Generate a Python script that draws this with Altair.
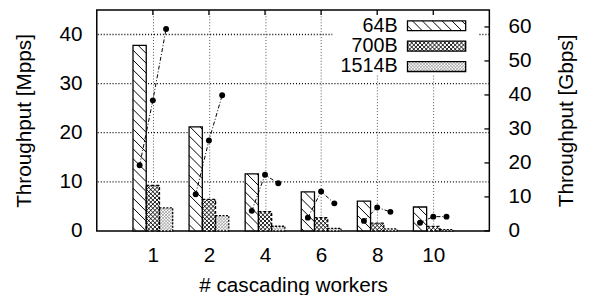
import json
import altair as alt
import pandas as pd

# ---------------- data ----------------
categories = ["1", "2", "4", "6", "8", "10"]
series = ["64B", "700B", "1514B"]
mpps_64 = [37.8, 21.2, 11.6, 7.95, 6.05, 4.87]
mpps_700 = [9.27, 6.4, 3.94, 2.7, 1.58, 0.92]
mpps_1514 = [4.67, 3.1, 0.95, 0.53, 0.4, 0.27]
gbps_64 = [19.3, 10.8, 5.9, 3.9, 2.95, 2.4]
gbps_700 = [38.4, 26.6, 16.5, 11.6, 6.9, 4.2]
gbps_1514 = [59.4, 39.9, 14.0, 8.1, 5.6, 4.2]
mpps_ticks = [0, 10, 20, 30, 40]
gbps_ticks = [0, 10, 20, 30, 40, 50, 60]

# ---------------- layout / style ----------------
W, H = 398, 224
X_DOM = [-1, 6]
MPPS_DOM = [0, 45]
GBPS_DOM = [0, 65]
BW = 0.236
FONT = "Liberation Sans"
FS = 21
LEG_FS = 20
FILLS = ["white", "white", "white"]
DASHES = [[1, 0], [3, 2], [2, 1.5]]
GRID_COLOR = "#555555"
# hatch styles per series: list of (direction, spacing px, colour, width)
HATCH = {
    "64B": [("back", 10.0, "black", 1.0)],
    "700B": [("back", 4.2, "black", 0.9), ("fwd", 4.2, "black", 0.9)],
    "1514B": [("back", 3.2, "#8a8a8a", 0.7), ("fwd", 3.2, "#8a8a8a", 0.7)],
}

rows = []
for i, c in enumerate(categories):
    for j, (s, mp, gb) in enumerate(zip(series, [mpps_64, mpps_700, mpps_1514],
                                         [gbps_64, gbps_700, gbps_1514])):
        rows.append({"idx": i, "cat": c, "series": s, "sidx": j,
                     "mpps": mp[i], "gbps": gb[i]})
df = pd.DataFrame(rows)

kx = W / (X_DOM[1] - X_DOM[0])
ky = H / (MPPS_DOM[1] - MPPS_DOM[0])


def hatch_segments(u_glob0, wp, hp, sp, direction):
    """diagonal lines inside a wp x hp box (local px, u right, t up)."""
    segs = []
    k = int(u_glob0 // sp) - 1
    while True:
        c = k * sp - u_glob0
        k += 1
        if c <= 0:
            continue
        if c >= wp + hp:
            break
        ua = max(0.0, c - hp)
        ub = min(wp, c)
        if ub - ua > 0.3:
            if direction == "back":   # '\'
                segs.append((ua, c - ua, ub, c - ub))
            else:                     # '/'
                segs.append((wp - ua, c - ua, wp - ub, c - ub))
    return segs


hrows = []
for j, (s, vals) in enumerate(zip(series, [mpps_64, mpps_700, mpps_1514])):
    for i in range(len(categories)):
        x0 = i + (j - 1.5) * BW
        wp = BW * kx
        hp = vals[i] * ky
        for d, sp, col, sw in HATCH[s]:
            for ua, ta, ub, tb in hatch_segments((x0 - X_DOM[0]) * kx, wp, hp, sp, d):
                hrows.append({"xa": x0 + ua / kx, "ya": ta / ky, "xb": x0 + ub / kx,
                              "yb": tb / ky, "col": col, "sw": sw})
hatch_df = pd.DataFrame(hrows)

xscale = alt.Scale(domain=X_DOM, nice=False, zero=False)
lscale = alt.Scale(domain=MPPS_DOM, nice=False)
rscale = alt.Scale(domain=GBPS_DOM, nice=False)
fill_scale = alt.Scale(domain=series, range=FILLS)
dash_scale = alt.Scale(domain=series, range=DASHES)
label_expr = json.dumps(categories) + "[datum.value]"

base = alt.Chart(df).transform_calculate(
    xc=f"datum.idx + (datum.sidx - 1) * {BW}",
    x0=f"datum.idx + (datum.sidx - 1) * {BW} - {BW / 2}",
    x1=f"datum.idx + (datum.sidx - 1) * {BW} + {BW / 2}",
)

# horizontal grid lines (left axis ticks)
hgrid = alt.Chart(pd.DataFrame({"g": [t for t in mpps_ticks if t > 0]})).mark_rule(
    color="black", strokeWidth=1.3, strokeDash=[1, 2]).encode(
    y=alt.Y("g:Q", scale=lscale, axis=None),
)

bar_fill = base.mark_bar(strokeWidth=0).encode(
    x=alt.X("x0:Q", scale=xscale,
            axis=alt.Axis(values=list(range(len(categories))), labelExpr=label_expr,
                          title="# cascading workers", grid=True, labelPadding=14,
                          titlePadding=9)),
    x2="x1:Q",
    y=alt.Y("mpps:Q", stack=None, scale=lscale,
            axis=alt.Axis(values=mpps_ticks, title="Throughput [Mpps]", grid=False,
                          labelPadding=15, titlePadding=25)),
    y2=alt.datum(0),
    fill=alt.Fill("series:N", scale=fill_scale, legend=None),
)

hatch = alt.Chart(hatch_df).mark_rule().encode(
    x=alt.X("xa:Q", scale=xscale),
    x2="xb:Q",
    y=alt.Y("ya:Q", scale=lscale, axis=None),
    y2="yb:Q",
    color=alt.Color("col:N", scale=None, legend=None),
    strokeWidth=alt.StrokeWidth("sw:Q", scale=None, legend=None),
)

bar_edge = base.mark_bar(fill="transparent", stroke="black", strokeWidth=1.3).encode(
    x=alt.X("x0:Q", scale=xscale),
    x2="x1:Q",
    y=alt.Y("mpps:Q", stack=None, scale=lscale, axis=None),
    y2=alt.datum(0),
    strokeDash=alt.StrokeDash("series:N", scale=dash_scale, legend=None),
)

top_ticks = alt.Chart(pd.DataFrame({"idx": list(range(len(categories)))})).mark_rule(
    color="black", strokeWidth=1.3).encode(
    x=alt.X("idx:Q", scale=xscale),
    y=alt.value(0), y2=alt.value(5),
)

lines = base.mark_line(color="black", strokeWidth=1, strokeDash=[4, 2, 1, 2]).encode(
    x=alt.X("xc:Q", scale=xscale),
    y=alt.Y("gbps:Q", scale=rscale,
            axis=alt.Axis(orient="right", values=gbps_ticks, title="Throughput [Gbps]",
                          grid=False, labelPadding=19, titlePadding=25,
                          titleAngle=270, titleBaseline="top")),
    detail="cat:N",
    order="sidx:Q",
)
points = base.mark_circle(color="black", size=36, opacity=1).encode(
    x=alt.X("xc:Q", scale=xscale),
    y=alt.Y("gbps:Q", scale=rscale, axis=None),
)
right_ticks = alt.Chart(pd.DataFrame({"t": gbps_ticks})).mark_rule(
    color="black", strokeWidth=1.3).encode(
    y=alt.Y("t:Q", scale=rscale, axis=None),
    x=alt.value(W - 5), x2=alt.value(W),
)

# ---------------- legend ----------------
LEG_X_TEXT = 305
LEG_SW0, LEG_SW1 = 315, 374
LEG_Y0, LEG_DY, LEG_H = 16.0, 20.7, 10.0
leg_df = pd.DataFrame({"series": series, "row": list(range(len(series)))})
leg_bg = alt.Chart(pd.DataFrame({"a": [0]})).mark_rect(fill="white").encode(
    x=alt.value(239), x2=alt.value(387), y=alt.value(5), y2=alt.value(66))
leg_base = alt.Chart(leg_df).transform_calculate(
    ly=f"{LEG_Y0} + datum.row * {LEG_DY}",
    ly0=f"{LEG_Y0} + datum.row * {LEG_DY} - {LEG_H / 2}",
    ly1=f"{LEG_Y0} + datum.row * {LEG_DY} + {LEG_H / 2}",
)
leg_text = leg_base.mark_text(align="right", baseline="middle", font=FONT,
                              fontSize=LEG_FS, color="black").encode(
    x=alt.value(LEG_X_TEXT), y=alt.Y("ly:Q", scale=None), text="series:N")
leg_edge = leg_base.mark_rect(fill="transparent", stroke="black", strokeWidth=1.3).encode(
    x=alt.value(LEG_SW0), x2=alt.value(LEG_SW1),
    y=alt.Y("ly0:Q", scale=None), y2="ly1:Q",
    strokeDash=alt.StrokeDash("series:N", scale=dash_scale, legend=None),
)
lh = []
for r, s in enumerate(series):
    sw_bottom = LEG_Y0 + r * LEG_DY + LEG_H / 2
    for d, sp, col, swd in HATCH[s]:
        for ua, ta, ub, tb in hatch_segments(LEG_SW0, LEG_SW1 - LEG_SW0, LEG_H, sp, d):
            lh.append({"xa": LEG_SW0 + ua, "ya": sw_bottom - ta, "xb": LEG_SW0 + ub,
                       "yb": sw_bottom - tb, "col": col, "sw": swd})
leg_hatch = alt.Chart(pd.DataFrame(lh)).mark_rule().encode(
    x=alt.X("xa:Q", scale=None), x2="xb:Q", y=alt.Y("ya:Q", scale=None), y2="yb:Q",
    color=alt.Color("col:N", scale=None, legend=None),
    strokeWidth=alt.StrokeWidth("sw:Q", scale=None, legend=None),
)

chart = alt.layer(
    hgrid, bar_fill, hatch, bar_edge, top_ticks, lines, points, right_ticks,
    leg_bg, leg_hatch, leg_edge, leg_text,
).resolve_scale(
    y="independent"
).properties(
    width=W, height=H,
    autosize=alt.AutoSizeParams(type="none"),
    padding={"left": 90, "top": 0, "right": 99, "bottom": 63},
).configure_view(
    stroke="black", strokeWidth=1.5
).configure_axis(
    labelFont=FONT, titleFont=FONT, labelFontSize=FS, titleFontSize=FS,
    titleFontWeight="normal", labelColor="black", titleColor="black",
    gridColor=GRID_COLOR, gridDash=[1, 2], gridWidth=1, domain=False, ticks=False,
)

chart.save("out.html", embed_options={"renderer": "svg", "actions": False})
